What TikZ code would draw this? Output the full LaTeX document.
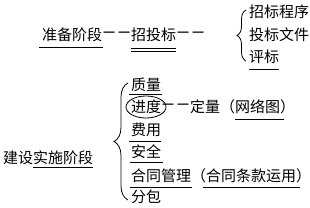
\documentclass[tikz,border=0pt]{standalone}
\usepackage{fontspec}
\setmainfont{Noto Sans CJK SC}
\usetikzlibrary{calc,decorations.pathreplacing}
\begin{document}
\begin{tikzpicture}[x=1pt,y=-1pt,
  txt/.style={inner sep=0pt, outer sep=0pt, anchor=west, font=\fontsize{15}{17}\selectfont},
  ul/.style={line width=0.8pt},
  bracestyle/.style={line width=0.8pt, decorate, decoration={brace, amplitude=#1, aspect=0.5}}]
\useasboundingbox (0,0) rectangle (310,208);
% top part
\node[txt] (zb) at (42,35) {准备阶段};
\node[txt] (d1) at (zb.east) {\kern1pt\scalebox{0.8}[1]{一}\kern3pt\scalebox{0.8}[1]{一}\kern1pt};
\node[txt] (ztb) at (d1.east) {招投标};
\node[txt] (d2) at (ztb.east) {\kern1pt\scalebox{0.8}[1]{一}\kern3pt\scalebox{0.8}[1]{一}\kern1pt};
\node[txt] (cx) at (249,12) {招标程序};
\node[txt] (tb) at (249,35) {投标文件};
\node[txt] (pb) at (249,57) {评标};
\coordinate (b1t) at (246,10);
\coordinate (b1b) at (246,61);
\draw[bracestyle=9pt] (b1b) -- (b1t);
\draw[ul] ($(zb.south west)+(-3,5)$) -- ($(zb.south east)+(1,5)$);
\draw[ul] ($(ztb.south west)+(0,6)$) -- ($(ztb.south east)+(0,6)$);
\draw[ul] ($(ztb.south west)+(0,9)$) -- ($(ztb.south east)+(0,9)$);
\draw[ul] ($(pb.south west)+(0,6)$) -- ($(pb.south east)+(0,6)$);
% bottom part
\node[txt] (js) at (3,158) {建设};
\node[txt] (ss) at (js.east) {实施阶段};
\draw[ul] ($(ss.south west)+(0,2)$) -- ($(ss.south east)+(0,2)$);
\coordinate (b2t) at (128,83);
\coordinate (b2b) at (128,200);
\draw[bracestyle=14pt] (b2b) -- (b2t);
\node[txt] (zl) at (131,85) {质量};
\node[txt] (jd) at (131,107) {进度};
\node[txt] (d3) at (jd.east) {\kern1pt\scalebox{0.8}[1]{一}\kern3pt\scalebox{0.8}[1]{一}\kern1pt};
\node[txt] (dl) at (d3.east) {定量（};
\node[txt] (wl) at (dl.east) {网络图};
\node[txt] (rp1) at (wl.east) {）};
\node[txt] (fy) at (131,130) {费用};
\node[txt] (aq) at (131,152) {安全};
\node[txt] (ht) at (131,176) {合同管理};
\node[txt] (lp2) at (ht.east) {（};
\node[txt] (tk) at (lp2.east) {合同条款运用};
\node[txt] (rp2) at (tk.east) {）};
\node[txt] (fb) at (131,197) {分包};
\draw[line width=0.8pt] (jd.center) ellipse (20pt and 11pt);
\draw[ul] ($(zl.south west)+(-2,3)$) -- ($(zl.south east)+(1,3)$);
\draw[ul] ($(wl.south west)+(0,5)$) -- ($(wl.south east)+(4,5)$);
\draw[ul] ($(fy.south west)+(-2,4)$) -- ($(fy.south east)+(0,4)$);
\draw[ul] ($(aq.south west)+(-1,3)$) -- ($(aq.south east)+(2,3)$);
\draw[ul] ($(ht.south west)+(-1,4)$) -- ($(ht.south east)+(1,4)$);
\draw[ul] ($(tk.south west)+(-3,4)$) -- ($(tk.south east)+(4,4)$);
\end{tikzpicture}
\end{document}
